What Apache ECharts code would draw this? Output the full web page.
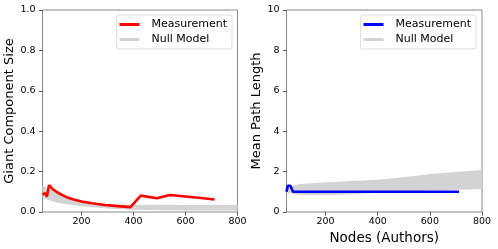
<!DOCTYPE html>
<html><head><meta charset="utf-8">
<script src="https://cdn.jsdelivr.net/npm/echarts@6/dist/echarts.min.js"></script>
<style>html,body{margin:0;padding:0;background:#fff}#c{width:498px;height:249px}</style>
</head><body><div id="c"></div>
<script>
// ---- Data ----
var xTicks = [200, 400, 600, 800];
var gcsTicksMax = 1.0;
var mplTicksMax = 10;

// Left panel: Giant Component Size
var gcsMeasX = [50, 60, 67, 75, 90, 105, 125, 145, 170, 200, 240, 290, 340, 388, 428, 490, 540, 600, 660, 712];
var gcsMeasY = [0.086, 0.094, 0.076, 0.133, 0.112, 0.099, 0.085, 0.072, 0.062, 0.052, 0.043, 0.035, 0.029, 0.024, 0.081, 0.068, 0.084, 0.077, 0.069, 0.062];
var gcsNullX = [50, 75, 100, 150, 200, 300, 400, 500, 600, 700, 800];
var gcsNullLo = [0.07, 0.058, 0.048, 0.037, 0.028, 0.017, 0.011, 0.009, 0.008, 0.008, 0.008];
var gcsNullHi = [0.13, 0.115, 0.098, 0.07, 0.052, 0.04, 0.036, 0.036, 0.035, 0.035, 0.035];

// Right panel: Mean Path Length
var mplMeasX = [50, 55, 65, 75, 100, 200, 300, 400, 500, 600, 712];
var mplMeasY = [1.0, 1.3, 1.3, 1.0, 1.0, 1.0, 1.0, 1.0, 1.0, 1.0, 1.0];
var mplNullX = [50, 75, 100, 150, 200, 250, 300, 350, 400, 450, 500, 550, 600, 650, 700, 750, 800];
var mplNullLo = [0.95, 0.88, 0.85, 0.83, 0.84, 0.86, 0.88, 0.91, 0.95, 0.98, 1.0, 1.03, 1.06, 1.08, 1.1, 1.12, 1.14];
var mplNullHi = [1.2, 1.3, 1.38, 1.42, 1.47, 1.5, 1.53, 1.56, 1.6, 1.66, 1.73, 1.8, 1.88, 1.93, 1.98, 2.03, 2.08];

function zip(a, b) { return a.map(function (v, i) { return [v, b[i]]; }); }
function band(xs, lo, hi) { return xs.map(function (v, i) { return [v, lo[i], hi[i]]; }); }

function bandRender(xs, lo, hi) {
  return function (params, api) {
    if (params.dataIndex !== 0) return null;
    var pts = [];
    for (var i = 0; i < xs.length; i++) pts.push(api.coord([xs[i], hi[i]]));
    for (var j = xs.length - 1; j >= 0; j--) pts.push(api.coord([xs[j], lo[j]]));
    return { type: 'polygon', shape: { points: pts }, style: { fill: '#d3d3d3', stroke: null } };
  };
}

var FONT = 'DejaVu Sans';
var gray = '#888';

function xAxisCfg(idx, name) {
  return {
    gridIndex: idx, type: 'value', min: 50, max: 800,
    name: name, nameLocation: 'middle', nameGap: 19,
    nameTextStyle: { fontFamily: FONT, fontSize: 13.5, color: '#000' },
    axisLine: { show: false },
    splitLine: { show: false },
    axisTick: { show: true, length: 3.5, lineStyle: { color: '#555' }, customValues: xTicks },
    axisLabel: { fontFamily: FONT, fontSize: 9.5, color: '#000', margin: 5, customValues: xTicks }
  };
}
function yAxisCfg(idx, max, interval, name, gap, dec) {
  return {
    gridIndex: idx, type: 'value', min: 0, max: max, interval: interval,
    name: name, nameLocation: 'middle', nameGap: gap, nameRotate: 90,
    nameTextStyle: { fontFamily: FONT, fontSize: 13, color: '#000' },
    axisLine: { show: false },
    splitLine: { show: false },
    axisTick: { show: true, length: 3.5, lineStyle: { color: '#555' } },
    axisLabel: { fontFamily: FONT, fontSize: 9.5, color: '#000', margin: 7,
      formatter: function (v) { return dec ? v.toFixed(1) : String(v); } }
  };
}
function legendCfg(right, measColor) {
  return {
    orient: 'vertical', right: right, top: 15,
    icon: 'rect', itemWidth: 20, itemHeight: 3, itemGap: 4,
    padding: [4, 5, 4, 3],
    borderColor: '#ddd', borderWidth: 1, borderRadius: 3, backgroundColor: '#fff',
    textStyle: { fontFamily: FONT, fontSize: 11, color: '#000', padding: [0, 0, 0, 7] },
    data: [{ name: 'Measurement', itemStyle: { color: measColor } },
           { name: 'Null Model', itemStyle: { color: '#d3d3d3' } }]
  };
}

var chart = echarts.init(document.getElementById('c'), null, { renderer: 'canvas' });
chart.setOption({
  animation: false,
  backgroundColor: '#fff',
  grid: [
    { left: 42.5, right: 260.5, top: 10, bottom: 37, show: true, borderColor: gray, borderWidth: 1, containLabel: false, outerBoundsMode: 'none' },
    { left: 286.5, right: 16, top: 10, bottom: 37, show: true, borderColor: gray, borderWidth: 1, containLabel: false, outerBoundsMode: 'none' }
  ],
  xAxis: [xAxisCfg(0, ''), xAxisCfg(1, 'Nodes (Authors)')],
  yAxis: [yAxisCfg(0, gcsTicksMax, 0.2, 'Giant Component Size', 20, true),
          yAxisCfg(1, mplTicksMax, 2, 'Mean Path Length', 17, false)],
  legend: [legendCfg(266, '#ff0000'), legendCfg(22, '#0000ff')],
  series: [
    { name: 'Null Model', type: 'custom', xAxisIndex: 0, yAxisIndex: 0, z: 1,
      itemStyle: { color: '#d3d3d3' }, encode: { x: 0, y: [1, 2] },
      data: band(gcsNullX, gcsNullLo, gcsNullHi), renderItem: bandRender(gcsNullX, gcsNullLo, gcsNullHi) },
    { name: 'Measurement', type: 'line', xAxisIndex: 0, yAxisIndex: 0, z: 3,
      showSymbol: false, symbol: 'none', color: '#ff0000',
      lineStyle: { color: '#ff0000', width: 2.6 }, data: zip(gcsMeasX, gcsMeasY) },
    { name: 'Null Model', type: 'custom', xAxisIndex: 1, yAxisIndex: 1, z: 1,
      itemStyle: { color: '#d3d3d3' }, encode: { x: 0, y: [1, 2] },
      data: band(mplNullX, mplNullLo, mplNullHi), renderItem: bandRender(mplNullX, mplNullLo, mplNullHi) },
    { name: 'Measurement', type: 'line', xAxisIndex: 1, yAxisIndex: 1, z: 3,
      showSymbol: false, symbol: 'none', color: '#0000ff',
      lineStyle: { color: '#0000ff', width: 2.6 }, data: zip(mplMeasX, mplMeasY) }
  ]
});
</script></body></html>
